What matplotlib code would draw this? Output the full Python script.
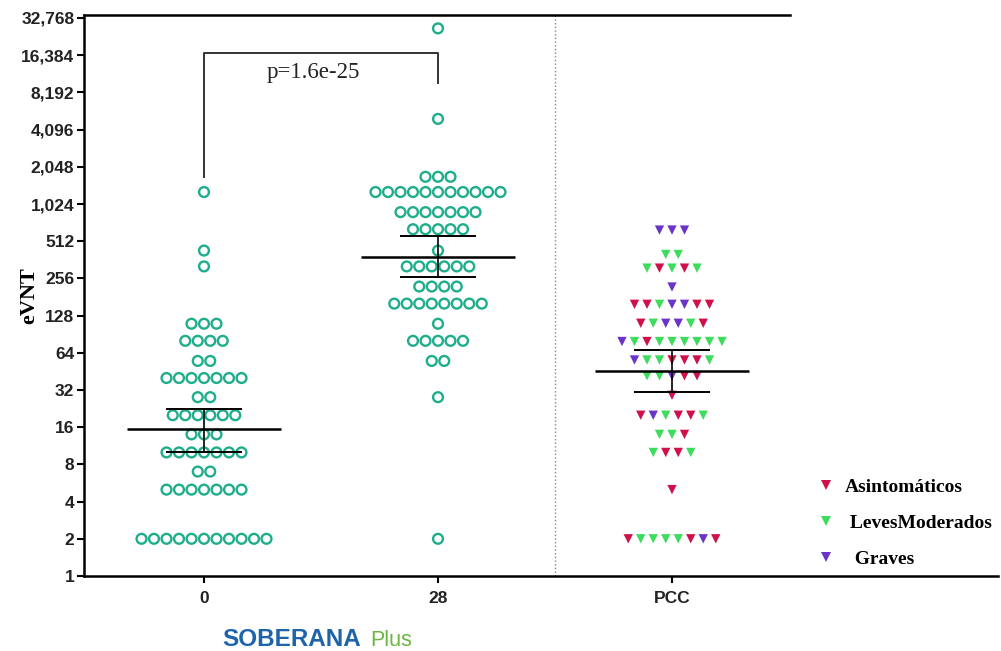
import numpy as np
import matplotlib
matplotlib.use('Agg')
from matplotlib import pyplot as plt
from matplotlib.lines import Line2D

groups = ['0', '28', 'PCC']

# día 0 y día 28: valor de cada fila y número de puntos en la fila
d0_values = [1280, 430, 320, 110, 80, 55, 40, 28, 20, 14, 10, 7, 5, 2]
d0_counts = [1, 1, 1, 3, 4, 2, 7, 2, 6, 3, 7, 2, 7, 11]

d28_values = [27000, 5000, 1700, 1280, 880, 640, 430, 320, 220, 160, 110, 80, 55, 28, 2]
d28_counts = [1, 1, 3, 11, 7, 5, 1, 6, 4, 8, 1, 5, 2, 1, 1]

# PCC: valor de cada fila y clase de cada punto (A, L, G)
pcc_values = [630, 400, 310, 218, 158, 111, 79, 56, 41.7, 29, 20, 14, 10, 5, 2]
pcc_classes = ['GGG', 'LL', 'LALAL', 'G', 'AALGGAA', 'ALGGLA', 'GLALLLLLL',
               'GLLAAAL', 'LLGAA', 'A', 'AGLAAL', 'LLA', 'LAAL', 'A', 'ALLLLAGA']

# media geométrica e IC 95%
gmean = [15.4, 383, 45.6]
ci_low = [10, 261, 31]
ci_high = [22.6, 564, 67.6]

class_names = {'A': 'Asintomáticos', 'L': ' LevesModerados', 'G': '  Graves'}
class_colors = {'A': '#d0104a', 'L': '#3ddc5c', 'G': '#6a34c8'}
teal = '#1fae8c'

step = 12.5 / 234


def swarm(values, counts, center):
    xs, ys = [], []
    for v, n in zip(values, counts):
        for i in range(n):
            xs.append(center + (i - (n - 1) / 2) * step)
            ys.append(v)
    return np.array(xs), np.array(ys)


fig = plt.figure(figsize=(10.01, 6.51), dpi=100)
ax = fig.add_axes([84 / 1001, 1 - 576 / 651, (998 - 84) / 1001, (576 - 15) / 651])
ax.set_yscale('log', base=2)
ax.set_ylim(1, 2 ** ((576 - 15) / 37.2))
ax.set_xlim(-120 / 234, (998 - 204) / 234)

x0, y0 = swarm(d0_values, d0_counts, 0)
ax.scatter(x0, y0, s=50, facecolors='none', edgecolors=teal, linewidths=1.7, zorder=3)
x1, y1 = swarm(d28_values, d28_counts, 1)
ax.scatter(x1, y1, s=50, facecolors='none', edgecolors=teal, linewidths=1.7, zorder=3)

for v, cls in zip(pcc_values, pcc_classes):
    n = len(cls)
    for i, c in enumerate(cls):
        ax.scatter(2 + (i - (n - 1) / 2) * step, v, marker='v', s=45,
                   color=class_colors[c], edgecolors='none', zorder=3)

for i in range(3):
    ax.hlines(gmean[i], i - 0.33, i + 0.33, color='black', lw=1.8, zorder=4)
    ax.vlines(i, ci_low[i], ci_high[i], color='black', lw=1.2, zorder=4)
    ax.hlines([ci_low[i], ci_high[i]], i - 0.163, i + 0.163, color='black', lw=1.4, zorder=4)

# línea punteada de separación
ax.axvline(1.5, color='#888888', lw=1.0, ls=':', zorder=1)

# corchete de significación
ax.plot([0, 0, 1, 1], [1700, 17000, 17000, 9800], color='#333333', lw=1.4)
ax.text(0.466, 11800, 'p=1.6e-25', ha='center', va='center', fontsize=16.5,
        family='Liberation Serif', color='#222222')

yt = [2 ** k for k in range(16)]
ax.set_yticks(yt)
ax.set_yticklabels([f'{v:,}' for v in yt])
ax.yaxis.set_minor_locator(matplotlib.ticker.NullLocator())
ax.set_xticks([0, 1, 2])
ax.set_xticklabels(groups)
for lab in ax.get_yticklabels() + ax.get_xticklabels():
    lab.set_fontfamily('Liberation Sans')
    lab.set_fontweight('bold')
    lab.set_color('#222222')
for lab in ax.get_yticklabels():
    lab.set_fontsize(12.5)
for lab in ax.get_xticklabels():
    lab.set_fontsize(12.5)
ax.tick_params(axis='both', direction='out', length=5, width=1.5, pad=2)
ax.tick_params(axis='x', pad=6)

ax.set_ylabel('eVNT', fontsize=16, fontweight='bold', family='Liberation Serif')
ax.yaxis.set_label_coords((39 - 84) / 914, 0.5)

for s in ['right', 'top']:
    ax.spines[s].set_visible(False)
for s in ['left', 'bottom']:
    ax.spines[s].set_linewidth(1.8)
ax.axhline(ax.get_ylim()[1], xmin=0, xmax=(790 - 84) / (998 - 84), color='black', lw=1.8, clip_on=False)

handles = [Line2D([], [], marker='v', ls='none', markersize=7, color=class_colors[k],
                  markeredgewidth=0) for k in ['A', 'L', 'G']]
labels = [class_names[k] for k in ['A', 'L', 'G']]
ax.legend(handles, labels, loc='upper left', bbox_to_anchor=(818 / 1001, 1 - 478 / 651),
          bbox_transform=fig.transFigure, frameon=False, borderpad=0, borderaxespad=0,
          handlelength=0.8, handletextpad=0.6, labelspacing=0.95,
          prop={'family': 'Liberation Serif', 'weight': 'bold', 'size': 14})

# logo
fig.text(222 / 1001, 1 - 640 / 651, 'SOBERANA', color='#1f64ab', fontsize=17.5,
         fontweight='bold', family='Liberation Sans', va='center', ha='left')
fig.text(370 / 1001, 1 - 640 / 651, 'Plus', color='#6db640', fontsize=15.5,
         family='Liberation Sans', va='center', ha='left')

fig.savefig('out.png', dpi=100)
